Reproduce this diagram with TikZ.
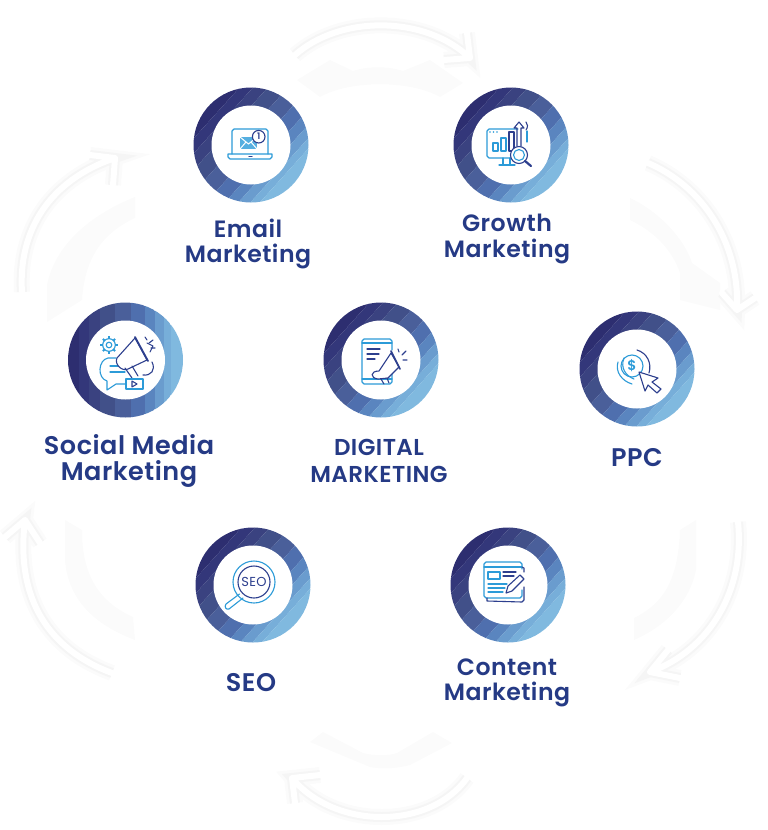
\documentclass[tikz,border=0pt]{standalone}
\usepackage{fontspec}
\setmainfont{Poppins}[BoldFont={Poppins SemiBold},LetterSpace=2]
\definecolor{bandA}{HTML}{2D2E70}
\definecolor{bandB}{HTML}{33377A}
\definecolor{bandC}{HTML}{3A4280}
\definecolor{bandD}{HTML}{415089}
\definecolor{bandE}{HTML}{4A5F9A}
\definecolor{bandF}{HTML}{4F6FAE}
\definecolor{bandG}{HTML}{5A85BF}
\definecolor{bandH}{HTML}{6A9CCE}
\definecolor{bandI}{HTML}{77AED9}
\definecolor{bandJ}{HTML}{80B9DF}
\definecolor{labelblue}{HTML}{253A85}
\definecolor{iconlight}{HTML}{2C9BD8}
\definecolor{icondark}{HTML}{2D3F8E}
\definecolor{ribbongray}{HTML}{FBFBFB}
\tikzset{
  ring/.style={circle,minimum size=115,inner sep=0,outer sep=0,path picture={
    \begin{scope}[shift={(path picture bounding box.center)}]
    \foreach \s/\e/\c in {-58/-47/bandA,-47/-37/bandB,-37/-26/bandC,-26/-11/bandD,-11/5/bandE,
      5/19/bandF,19/29/bandG,29/38/bandH,38/45/bandI,45/58/bandJ}
      \fill[\c] ({\s*cos(#1)+70*sin(#1)},{\s*sin(#1)-70*cos(#1)}) -- ({\e*cos(#1)+70*sin(#1)},{\e*sin(#1)-70*cos(#1)})
        -- ({\e*cos(#1)-70*sin(#1)},{\e*sin(#1)+70*cos(#1)}) -- ({\s*cos(#1)-70*sin(#1)},{\s*sin(#1)+70*cos(#1)}) -- cycle;
    \fill[white] (0,0) circle (39.5);
    \end{scope}}},
  ring/.default=42,
  tag/.style={font=\fontsize{23.6}{25.5}\selectfont\bfseries,text=labelblue,align=center,inner sep=0},
  tagbig/.style={font=\fontsize{25.5}{26.5}\selectfont\bfseries,text=labelblue,align=center,inner sep=0},
  tagcaps/.style={font=\fontsize{23}{27}\selectfont\bfseries,text=labelblue,align=center,inner sep=0},
  flow/.style={draw=white,line width=6,line cap=round,line join=round,
    preaction={draw=ribbongray,line width=16},preaction={draw=black!4,line width=10}},
  ribbon/.style={fill=ribbongray,draw=none},
  lite/.style={draw=iconlight,line width=1.1,line cap=round,line join=round},
  dark/.style={draw=icondark,line width=1.1,line cap=round,line join=round},
  icontext/.style={inner sep=0,text=icondark,font=\bfseries}
}
\begin{document}
\begin{tikzpicture}[x=1pt,y=-1pt]
\useasboundingbox (0,0) rectangle (768,830);
% faint ribbons behind everything
\fill[ribbon] (297,80) -- (330,60) -- (353,71) .. controls (368,66) and (388,66) .. (403,71) -- (430,60) -- (463,83) -- (440,97) .. controls (410,80) and (350,80) .. (320,97) -- cycle;
\fill[ribbon] (630,198) .. controls (660,212) and (685,240) .. (692,263) -- (720,283) -- (720,310) -- (680,300) -- (680,273) .. controls (672,250) and (655,232) .. (630,220) -- cycle;
\fill[ribbon] (696,520) -- (696,570) .. controls (690,600) and (668,625) .. (634,640) -- (634,618) .. controls (660,605) and (678,585) .. (680,530) -- cycle;
\fill[ribbon] (310,742) -- (323,732) -- (363,753) .. controls (375,756) and (388,756) .. (397,753) -- (433,732) -- (452,743) -- (410,765) .. controls (395,769) and (380,769) .. (370,767) -- cycle;
\fill[ribbon] (65,520) -- (82,530) .. controls (82,570) and (95,600) .. (133,617) -- (135,640) .. controls (95,625) and (68,600) .. (65,560) -- cycle;
\fill[ribbon] (135,197) -- (135,218) .. controls (105,232) and (85,255) .. (82,300) -- (47,322) -- (47,285) .. controls (55,245) and (90,215) .. (135,197) -- cycle;
% arrows around the outside
\coordinate (topstart) at (295,55);
\coordinate (toptip) at (470,58);
\draw[flow] (topstart) .. controls (340,15) and (425,15) .. (toptip) -- (467,33) (toptip) -- (444,60);
\coordinate (rightstart) at (648,163);
\coordinate (righttip) at (737,310);
\draw[flow] (rightstart) .. controls (700,185) and (740,240) .. (righttip) -- (722,293) (righttip) -- (755,298);
\coordinate (lowrightstart) at (738,522);
\coordinate (lowrighttip) at (650,672);
\draw[flow] (lowrightstart) .. controls (745,590) and (710,650) .. (lowrighttip) -- (668,650) (lowrighttip) -- (680,678);
\coordinate (bottomstart) at (467,778);
\coordinate (bottomtip) at (292,778);
\draw[flow] (bottomstart) .. controls (430,830) and (335,830) .. (bottomtip) -- (320,775) (bottomtip) -- (295,803);
\coordinate (lowleftstart) at (112,673);
\coordinate (lowlefttip) at (25,520);
\draw[flow] (lowleftstart) .. controls (50,650) and (15,600) .. (lowlefttip) -- (5,537) (lowlefttip) -- (40,543);
\coordinate (leftstart) at (22,292);
\coordinate (lefttip) at (115,158);
\draw[flow] (leftstart) .. controls (18,230) and (50,180) .. (lefttip) -- (90,155) (lefttip) -- (113,185);
% rings
\node[ring] (emailring) at (251,145) {};
\node[ring] (growthring) at (511,145) {};
\node[ring=0] (socialring) at (125.5,360) {};
\node[ring] (digitalring) at (381,360) {};
\node[ring] (ppcring) at (637,369) {};
\node[ring] (searchring) at (253,585) {};
\node[ring] (contentring) at (508,585) {};
% labels
\node[tag] (emaillabel) at (248,244) {Email\\Marketing};
\node[tag] (growthlabel) at (507,239) {Growth\\Marketing};
\node[tagbig] (sociallabel) at (129,461) {Social Media\\Marketing};
\node[tagcaps] (digitallabel) at (379,461) {DIGITAL\\MARKETING};
\node[tagbig] (ppclabel) at (637,458) {PPC};
\node[tagbig] (searchlabel) at (251,683) {SEO};
\node[tag] (contentlabel) at (507,683) {Content\\Marketing};
% email icon
\draw[lite] (232,154) -- (232,131) -- (234,129) -- (266,129) -- (268,131) -- (268,154);
\draw[lite] (228,154) -- (272,154) -- (272,157) -- (270,159) -- (230,159) -- (228,157) -- cycle;
\draw[dark] (249,156.5) -- (252,156.5);
\fill[iconlight!80] (240,137) rectangle (257,149);
\draw[white,line width=1] (240,137) -- (248.5,144) -- (257,137) (240,149) -- (246,142) (257,149) -- (251,142);
\draw[dark,fill=white] (258.7,136.7) circle (6.3);
\node[icontext,font=\fontsize{9}{9}\selectfont\bfseries] (emailbadge) at (258.7,136.7) {1};
% growth icon
\draw[lite] (518,129) -- (489,129) -- (487,131) -- (487,156) -- (489,158) -- (511,158);
\draw[lite] (527,131) -- (527,142);
\draw[lite] (503,158) -- (503,165) (510,158) -- (510,165) (499,165) -- (515,165);
\draw[lite] (493,151) -- (493,143) -- (498,143) -- (498,151) -- cycle;
\draw[lite] (501,151) -- (501,138) -- (506,138) -- (506,151) -- cycle;
\draw[dark] (509,151) -- (509,132) -- (514,132) -- (514,151) -- cycle;
\draw[dark] (517,146) -- (517,128) -- (514,128) -- (519,122) -- (524,128) -- (521,128) -- (521,146);
\draw[dark] (526,122) .. controls (528,124) and (528,127) .. (526,130);
\fill[iconlight] (490,132) circle (.8) (493.5,132) circle (.8) (497,132) circle (.8);
\draw[dark,fill=white] (519,155) circle (8.5);
\draw[lite] (519,155) circle (5.5);
\draw[dark,line width=2.2] (525,161) -- (531,166);
% social icon
\foreach \a in {0,45,...,315} \draw[iconlight,line width=2] (109,345) ++(\a:6) -- ++(\a:2.6);
\draw[lite] (109,345) circle (6.3) (109,345) circle (2.8);
\draw[lite] (116,358) -- (108,358) .. controls (98,360) and (97,378) .. (107,381) -- (107,390) -- (116,384) -- (126,384);
\draw[lite] (110,366) -- (123,366) (110,372) -- (125,372);
\draw[dark,fill=white] (117,358) -- (135,338) -- (147,360) -- (128,369) .. controls (122,372) and (114,364) .. (117,358);
\draw[dark,line width=1.8] (135,337) -- (148,361);
\draw[dark] (125,368) -- (132,378) (132,366) -- (138,376);
\draw[dark] (147,343) -- (153,346) -- (150,352);
\draw[dark] (145,337) -- (147,340) (153,340) -- (149,343) (155,348) -- (151,348);
\draw[dark] (152,362) .. controls (156,370) and (151,376) .. (143,375);
\draw[lite,fill=white] (126,379) rectangle (143,389);
\draw[dark] (132,381) -- (132,387) -- (137,384) -- cycle;
% digital icon
\draw[lite] (392,350) -- (392,341) -- (390,339) -- (364,339) -- (362,341) -- (362,382) -- (364,384) -- (390,384) -- (392,382) -- (392,373);
\draw[lite] (362,343) -- (392,343) (362,379) -- (392,379);
\draw[dark] (367,349) -- (380,349) (367,354) -- (379,354) (367,359) -- (375,359);
\draw[dark,fill=white] (379,371) -- (391,353) -- (399,367) -- (388,378) -- (378,379) .. controls (370,378) and (370,371) .. (379,371);
\draw[dark,line width=1.7] (391,351) -- (400,369);
\draw[dark] (381,379) -- (384,384) (387,378) -- (389,383);
\draw[dark] (398,349) -- (399,352) (402,355) -- (406,351) (403,360) -- (407,360);
% ppc icon
\draw[lite] (632,366) circle (11);
\draw[lite] (618,362) .. controls (615,372) and (622,381) .. (632,384);
\draw[dark] (637,350) .. controls (647,353) and (652,363) .. (649,373);
\draw[lite] (624,358) .. controls (620,368) and (626,376) .. (634,379);
\node[icontext,text=iconlight,font=\fontsize{14}{14}\selectfont\bfseries] (ppcdollar) at (632,366) {\$};
\draw[dark,fill=white] (639,372) -- (658,378) -- (652,382) -- (661,389) -- (657,393) -- (648,385) -- (645,391) -- cycle;
% search icon
\draw[lite] (254,582) circle (21);
\draw[dark] (254,582) circle (16);
\node[icontext,font=\fontsize{13}{13}\selectfont] (searchword) at (254,582) {SEO};
\draw[lite,line width=1.1] (239.5,594) -- (226,604) .. controls (224,607) and (226,610) .. (229,609) -- (243,598);
% content icon
\draw[lite] (522,569) -- (522,564) -- (520,562) -- (486,562) -- (484,564) -- (484,596) -- (486,598) -- (520,598) -- (522,596) -- (522,590);
\draw[lite] (484,567) -- (522,567);
\draw[dark] (487,598) -- (487,601) -- (522,602) -- (524,600) -- (524,587) (522,567) -- (524,568) -- (524,572);
\draw[lite] (488,572) rectangle (500,579);
\draw[dark] (503,572) -- (516,572) (503,576) -- (514,576);
\draw[lite] (488,584) -- (507,584) (488,588) -- (505,588) (488,592) -- (503,592);
\draw[dark,fill=white] (506,593) -- (508,586) -- (520,575) -- (524,579) -- (512,591) -- cycle;
\end{tikzpicture}
\end{document}
